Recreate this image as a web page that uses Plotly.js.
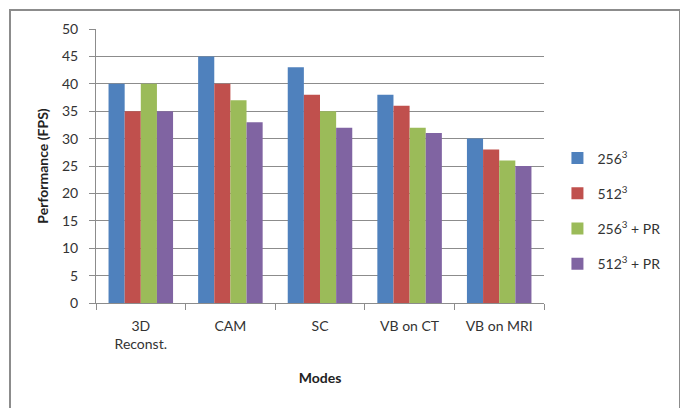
<!DOCTYPE html>
<html><head><meta charset="utf-8">
<script src="https://cdn.plot.ly/plotly-3.0.1.min.js"></script>
<style>
html,body{margin:0;padding:0;background:#fff;}
#wrap{position:relative;width:680px;height:408px;}
#chart{width:680px;height:408px;}
#frame{position:absolute;left:9px;top:9px;width:668px;height:420px;border:2px solid #8c8c8c;pointer-events:none;}
</style></head>
<body><div id="wrap"><div id="chart"></div><div id="frame"></div></div>
<script>
const categories = ["3D<br>Reconst.", "CAM", "SC", "VB on CT", "VB on MRI"];
const seriesNames = ["256<sup>3</sup>", "512<sup>3</sup>", "256<sup>3</sup> + PR", "512<sup>3</sup> + PR"];
const s256 = [40, 45, 43, 38, 30];
const s512 = [35, 40, 38, 36, 28];
const s256pr = [40, 37, 35, 32, 26];
const s512pr = [35, 33, 32, 31, 25];
const colors = ["#4f81bd", "#c0504d", "#9bbb59", "#8064a2"];
const yTicks = [0,5,10,15,20,25,30,35,40,45,50];

const allSeries = [s256, s512, s256pr, s512pr];
const traces = allSeries.map((vals, i) => ({
  type: 'bar', x: categories, y: vals, name: seriesNames[i],
  legendgroup: 'g' + i,
  marker: {color: colors[i], line: {width: 0}}
}));

const fontFam = 'Lato, "Open Sans", sans-serif';
const layout = {
  width: 680, height: 408,
  margin: {l: 96, r: 136, t: 29, b: 105},
  paper_bgcolor: '#fff', plot_bgcolor: '#fff',
  barmode: 'group', bargap: 0.28, bargroupgap: 0,
  font: {family: fontFam, size: 13, color: '#404040'},
  showlegend: true,
  legend: {x: 1.03, xanchor: 'left', y: 0.336, yanchor: 'middle',
    font: {family: fontFam, size: 14, color: '#333'},
    traceorder: 'grouped', tracegroupgap: 14, itemwidth: 30},
  xaxis: {
    showgrid: false, showline: true, linecolor: '#8c8c8c', linewidth: 1,
    ticks: 'outside', ticklen: 6, tickcolor: '#8c8c8c', tickson: 'boundaries',
    ticklabelstandoff: 10,
    tickfont: {family: fontFam, size: 14, color: '#333'},
    title: {text: '<b>Modes</b>', font: {family: fontFam, size: 14, color: '#222'}, standoff: 22}
  },
  yaxis: {
    range: [0, 50], tickvals: yTicks, ticktext: yTicks.map(String),
    showgrid: true, gridcolor: '#8c8c8c', gridwidth: 1,
    showline: true, linecolor: '#8c8c8c', linewidth: 1, zeroline: false,
    ticks: 'outside', ticklen: 6, tickcolor: '#8c8c8c',
    ticklabelstandoff: 8,
    tickfont: {family: fontFam, size: 14, color: '#333'},
    title: {text: '<b>Performance (FPS)</b>', font: {family: fontFam, size: 14, color: '#222'}, standoff: 10}
  }
};
Plotly.newPlot('chart', traces, layout, {displayModeBar: false, staticPlot: true});
</script></body></html>
